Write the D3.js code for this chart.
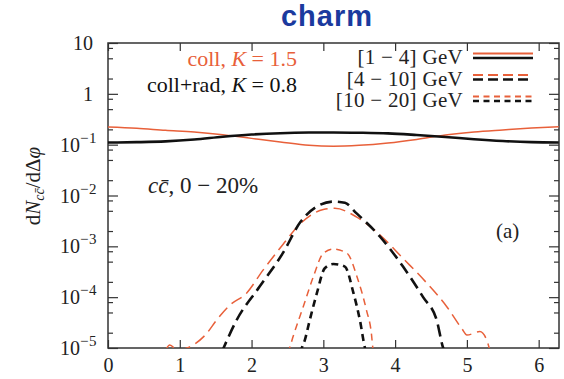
<!DOCTYPE html>
<html>
<head>
<meta charset="utf-8">
<style>
  body { margin: 0; background: #fff; }
  svg text { font-family: "Liberation Serif", "DejaVu Serif", serif; }
</style>
</head>
<body>
<div id="container"></div>

<script src="https://d3js.org/d3.v7.min.js"></script>
<script>
  // ---- data ----
  const phiSoft = [0, 0.4, 0.8, 1.2, 1.6, 2.0, 2.4, 2.8, 3.14, 3.5, 3.9, 4.3, 4.7, 5.1, 5.5, 5.9, 6.28];
  const collSoft = [0.222, 0.21, 0.192, 0.178, 0.157, 0.133, 0.113, 0.097, 0.093, 0.097, 0.108, 0.127, 0.155, 0.178, 0.195, 0.212, 0.225];
  const radSoft = [0.110, 0.112, 0.116, 0.126, 0.143, 0.158, 0.168, 0.173, 0.174, 0.172, 0.167, 0.155, 0.142, 0.128, 0.118, 0.112, 0.110];

  const phiCollMid = [0.8, 0.86, 0.97, 1.1, 1.37, 1.51, 1.7, 1.93, 2.16, 2.44, 2.68, 3.0, 3.16, 3.46, 3.79, 4.11, 4.44, 4.72, 4.93, 5.0, 5.18, 5.27, 5.32];
  const collMid = [9e-6, 1.15e-5, 9e-6, 1.0e-5, 1.9e-5, 3.5e-5, 7.0e-5, 1.2e-4, 3.4e-4, 1.1e-3, 2.8e-3, 5.3e-3, 5.6e-3, 3.8e-3, 1.67e-3, 5.8e-4, 1.9e-4, 6.5e-5, 2.4e-5, 1.8e-5, 2.1e-5, 1.5e-5, 9e-6];

  const phiRadMid = [1.58, 1.61, 1.79, 2.11, 2.44, 2.68, 2.95, 3.14, 3.3, 3.46, 3.79, 4.11, 4.39, 4.58, 4.67, 4.70];
  const radMid = [8e-6, 1.0e-5, 3.5e-5, 1.6e-4, 7.5e-4, 3.0e-3, 6.5e-3, 7.6e-3, 7.2e-3, 4.5e-3, 1.55e-3, 4.0e-4, 1.0e-4, 3.5e-5, 1.0e-5, 8e-6];

  const phiCollHigh = [2.50, 2.53, 2.58, 2.72, 2.86, 3.0, 3.14, 3.33, 3.47, 3.60, 3.67, 3.69, 3.71];
  const collHigh = [8e-6, 1e-5, 1.7e-5, 6.5e-5, 2.5e-4, 7.3e-4, 8.8e-4, 7.3e-4, 2.5e-4, 5.6e-5, 1.9e-5, 1e-5, 8e-6];

  const phiRadHigh = [2.68, 2.70, 2.74, 2.81, 2.91, 3.02, 3.14, 3.30, 3.42, 3.51, 3.58, 3.60];
  const radHigh = [8e-6, 1e-5, 1.4e-5, 3.5e-5, 1.2e-4, 3.7e-4, 4.5e-4, 4.0e-4, 1.2e-4, 3.5e-5, 1e-5, 8e-6];

  const xTicks = [0, 1, 2, 3, 4, 5, 6];
  const yTicks = [1e-5, 1e-4, 1e-3, 1e-2, 1e-1, 1, 10];
  const yTickLabels = ["10|−5", "10|−4", "10|−3", "10|−2", "10|−1", "1", "10"];
  const ptBins = ["[1 − 4] GeV", "[4 − 10] GeV", "[10 − 20] GeV"];

  const orange = "#e8603a";
  const black = "#111";

  // ---- layout ----
  const W = 564, H = 379;
  const plot = { left: 108, right: 559, top: 43, bottom: 348 };

  const svg = d3.select("#container").append("svg")
    .attr("width", W).attr("height", H);

  const x = d3.scaleLinear().domain([0, 2 * Math.PI]).range([plot.left, plot.right]);
  const y = d3.scaleLog().domain([1e-5, 10]).range([plot.bottom, plot.top]);

  // title
  svg.append("text")
    .attr("x", 327).attr("y", 26)
    .attr("text-anchor", "middle")
    .style("font-family", "'Liberation Sans', Arial, sans-serif")
    .style("font-weight", "bold")
    .style("font-size", "29px")
    .style("letter-spacing", "1px")
    .attr("fill", "#1b3a9e")
    .text("charm");

  // clip for curves
  svg.append("clipPath").attr("id", "clip")
    .append("rect")
    .attr("x", plot.left).attr("y", plot.top)
    .attr("width", plot.right - plot.left).attr("height", plot.bottom - plot.top);

  // minor y ticks (2, 5, 8 of each decade)
  const minor = [];
  for (let e = -5; e < 1; e++) [2, 5, 8].forEach(k => minor.push(k * Math.pow(10, e)));

  const axisStyle = g => {
    g.select(".domain").remove();
    g.selectAll("line").attr("stroke", "#333").attr("stroke-width", 1.2);
  };

  svg.append("g").attr("transform", `translate(${plot.left},0)`)
    .call(d3.axisLeft(y).tickValues(yTicks).tickSize(-10).tickFormat(""))
    .call(axisStyle);
  svg.append("g").attr("transform", `translate(${plot.left},0)`)
    .call(d3.axisLeft(y).tickValues(minor).tickSize(-5).tickFormat(""))
    .call(axisStyle);
  svg.append("g").attr("transform", `translate(${plot.right},0)`)
    .call(d3.axisRight(y).tickValues(yTicks).tickSize(-10).tickFormat(""))
    .call(axisStyle);
  svg.append("g").attr("transform", `translate(${plot.right},0)`)
    .call(d3.axisRight(y).tickValues(minor).tickSize(-5).tickFormat(""))
    .call(axisStyle);

  // x axis bottom with labels, top with ticks only
  const xb = svg.append("g").attr("transform", `translate(0,${plot.bottom})`)
    .call(d3.axisBottom(x).tickValues(xTicks).tickSize(-8).tickPadding(10).tickFormat(d3.format("d")))
    .call(axisStyle);
  xb.selectAll("text")
    .style("font-family", "'Liberation Serif', serif")
    .style("font-size", "20px")
    .attr("fill", "#222");
  svg.append("g").attr("transform", `translate(0,${plot.top})`)
    .call(d3.axisTop(x).tickValues(xTicks).tickSize(-8).tickFormat(""))
    .call(axisStyle);

  // y tick labels with superscripts
  const yl = svg.append("g");
  yTicks.forEach((v, i) => {
    const parts = yTickLabels[i].split("|");
    const t = yl.append("text")
      .attr("x", parts.length > 1 ? 97 : 93)
      .attr("y", y(v) + 7)
      .attr("text-anchor", "end")
      .style("font-size", "20px")
      .attr("fill", "#222");
    t.append("tspan").text(parts[0]);
    if (parts.length > 1) {
      t.append("tspan").attr("dy", -9).style("font-size", "15px")
        .style("letter-spacing", "0.5px").text(parts[1]);
    }
  });

  // frame
  svg.append("rect")
    .attr("x", plot.left).attr("y", plot.top)
    .attr("width", plot.right - plot.left).attr("height", plot.bottom - plot.top)
    .attr("fill", "none").attr("stroke", "#333").attr("stroke-width", 1.5);

  // curves
  const line = d3.line()
    .x(d => x(d[0])).y(d => y(d[1]))
    .curve(d3.curveMonotoneX);

  const series = [
    { phi: phiSoft, val: collSoft, color: orange, width: 1.5, dash: null },
    { phi: phiSoft, val: radSoft, color: black, width: 2.6, dash: null },
    { phi: phiCollMid, val: collMid, color: orange, width: 1.5, dash: "12,6" },
    { phi: phiRadMid, val: radMid, color: black, width: 2.6, dash: "12,6" },
    { phi: phiCollHigh, val: collHigh, color: orange, width: 1.5, dash: "7,5" },
    { phi: phiRadHigh, val: radHigh, color: black, width: 2.6, dash: "7,5" }
  ];

  const curves = svg.append("g").attr("clip-path", "url(#clip)");
  series.forEach(s => {
    curves.append("path")
      .datum(s.phi.map((p, i) => [p, s.val[i]]))
      .attr("d", line)
      .attr("fill", "none")
      .attr("stroke", s.color)
      .attr("stroke-width", s.width)
      .attr("stroke-dasharray", s.dash);
  });

  // left legend (model labels)
  const mk = (xx, yy, col, pieces) => {
    const t = svg.append("text").attr("x", xx).attr("y", yy)
      .attr("text-anchor", "end").style("font-size", "22px").attr("fill", col);
    pieces.forEach(p => t.append("tspan").style("font-style", p[1] ? "italic" : "normal").text(p[0]));
    return t;
  };
  mk(297, 66, orange, [["coll, ", 0], ["K", 1], [" = 1.5", 0]]);
  mk(297, 92, black, [["coll+rad, ", 0], ["K", 1], [" = 0.8", 0]]);

  // right legend (pT bins)
  const dashes = [null, "10,5", "6,4.5"];
  const legY = [56, 77.5, 99];
  ptBins.forEach((lab, i) => {
    svg.append("text").attr("x", 463).attr("y", legY[i] + 8)
      .attr("text-anchor", "end").style("font-size", "21px").attr("fill", "#222")
      .style("letter-spacing", "0.3px")
      .text(lab);
    svg.append("line")
      .attr("x1", 473).attr("x2", 533).attr("y1", legY[i] - 2.5).attr("y2", legY[i] - 2.5)
      .attr("stroke", orange).attr("stroke-width", 2).attr("stroke-dasharray", dashes[i]);
    svg.append("line")
      .attr("x1", 473).attr("x2", 533).attr("y1", legY[i] + 2).attr("y2", legY[i] + 2)
      .attr("stroke", black).attr("stroke-width", 2.6).attr("stroke-dasharray", dashes[i]);
  });

  // in-plot annotations
  const ann = svg.append("text").attr("x", 148).attr("y", 193)
    .style("font-size", "23px").attr("fill", "#222");
  ann.append("tspan").style("font-style", "italic").text("c");
  ann.append("tspan").style("font-style", "italic").text("c\u0304");
  ann.append("tspan").text(", 0 − 20%");

  svg.append("text").attr("x", 496).attr("y", 238)
    .style("font-size", "21px").attr("fill", "#222").text("(a)");

  // y axis title
  const yt = svg.append("text")
    .attr("transform", "translate(40,186) rotate(-90)")
    .attr("text-anchor", "middle")
    .style("font-size", "21px").attr("fill", "#222");
  yt.append("tspan").text("d");
  yt.append("tspan").style("font-style", "italic").text("N");
  yt.append("tspan").attr("dy", 4).style("font-size", "14px").style("font-style", "italic").text("c\u0063\u0304");
  yt.append("tspan").attr("dy", -4).text("/d\u0394");
  yt.append("tspan").style("font-style", "italic").text("\u03c6");
</script>
</body>
</html>
